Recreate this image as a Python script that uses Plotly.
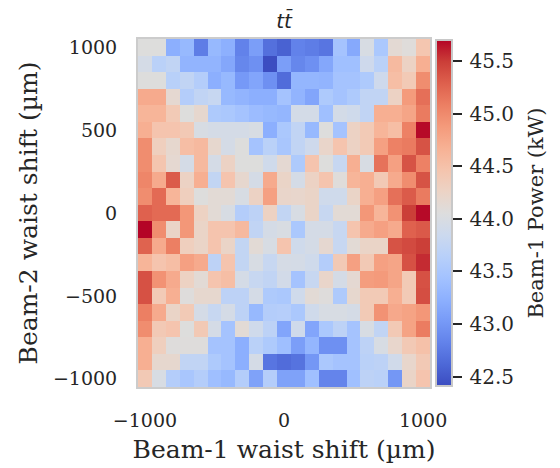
import plotly.graph_objects as go

# Axis values (µm)
x_shift_um = [-1000, -900, -800, -700, -600, -500, -400, -300, -200, -100, 0,
              100, 200, 300, 400, 500, 600, 700, 800, 900, 1000]
y_shift_um = [1000, 900, 800, 700, 600, 500, 400, 300, 200, 100, 0,
              -100, -200, -300, -400, -500, -600, -700, -800, -900, -1000]
x_tick_vals = [-1000, 0, 1000]
y_tick_vals = [-1000, -500, 0, 500, 1000]
cbar_tick_vals = [42.5, 43.0, 43.5, 44.0, 44.5, 45.0, 45.5]

# Beam-1 power (kW), one list per Beam-2 waist shift row (top to bottom)
row_p1000 = [44.06, 44.06, 43.22, 43.33, 42.78, 43.33, 43.23, 42.82, 43.06, 42.68, 42.57, 42.82, 42.78, 42.72, 43.46, 43.17, 43.98, 43.52, 44.14, 44.08, 44.44]
row_p900 = [43.95, 43.66, 43.74, 43.28, 43.28, 43.28, 43.15, 42.86, 42.94, 42.42, 43.06, 42.86, 42.94, 43.15, 43.41, 43.41, 43.87, 43.66, 44.57, 44.27, 44.69]
row_p800 = [44.06, 44.06, 43.64, 43.74, 43.60, 43.22, 43.33, 43.02, 43.13, 42.94, 42.65, 43.30, 43.30, 43.28, 43.46, 43.46, 43.55, 43.87, 44.53, 44.39, 44.98]
row_p700 = [44.73, 44.73, 44.16, 43.60, 43.74, 43.80, 43.33, 43.28, 43.22, 43.22, 43.46, 43.28, 43.13, 43.55, 43.46, 43.55, 43.74, 43.74, 44.27, 44.87, 45.19]
row_p600 = [44.63, 44.63, 44.39, 44.06, 44.18, 43.55, 43.52, 43.46, 43.37, 43.33, 43.30, 43.94, 43.94, 43.41, 43.94, 43.88, 43.74, 44.69, 44.69, 44.78, 45.11]
row_p500 = [44.69, 44.46, 44.46, 44.40, 43.98, 43.95, 43.95, 43.95, 43.98, 43.22, 43.52, 43.74, 43.33, 44.06, 43.46, 44.27, 44.39, 44.63, 44.53, 45.07, 45.68]
row_p400 = [44.98, 44.32, 44.18, 44.53, 44.58, 44.18, 43.95, 44.06, 43.46, 43.66, 43.50, 43.74, 43.87, 44.22, 44.46, 44.27, 44.39, 44.82, 45.07, 45.11, 45.37]
row_p300 = [44.98, 44.45, 44.16, 43.95, 44.58, 43.95, 44.27, 44.06, 44.06, 43.88, 44.15, 43.55, 44.46, 44.06, 43.80, 44.69, 43.98, 45.17, 44.82, 45.37, 45.07]
row_p200 = [45.03, 44.73, 45.32, 44.27, 44.69, 43.75, 44.46, 44.18, 43.95, 44.73, 44.24, 43.95, 44.27, 44.46, 44.08, 44.63, 44.69, 44.40, 44.73, 44.98, 45.37]
row_p100 = [44.98, 45.22, 44.63, 44.32, 44.06, 44.12, 44.12, 43.98, 44.27, 44.82, 44.22, 44.20, 44.24, 43.88, 43.88, 44.24, 44.69, 44.82, 45.18, 45.32, 45.11]
row_0 = [45.28, 45.22, 45.22, 44.90, 44.28, 44.12, 43.98, 43.60, 43.70, 44.28, 43.75, 43.98, 44.24, 43.80, 44.12, 44.12, 44.90, 44.63, 44.94, 45.49, 45.68]
row_m100 = [45.70, 44.98, 44.24, 44.90, 44.24, 44.46, 44.46, 44.58, 43.74, 43.95, 44.00, 43.52, 43.95, 43.95, 43.80, 44.46, 44.73, 44.82, 44.73, 45.28, 45.33]
row_m200 = [45.27, 44.73, 45.08, 44.32, 44.24, 44.46, 44.24, 43.75, 44.12, 43.98, 44.46, 43.88, 43.95, 44.17, 43.80, 44.12, 44.24, 44.24, 45.37, 45.42, 45.49]
row_m300 = [44.63, 44.46, 44.53, 44.82, 44.73, 43.70, 44.46, 43.75, 43.98, 43.80, 43.96, 43.95, 43.88, 43.60, 44.40, 44.82, 44.40, 44.82, 44.78, 45.38, 45.56]
row_m400 = [45.38, 44.94, 44.73, 44.28, 44.12, 44.46, 44.53, 43.95, 43.80, 43.74, 43.92, 43.46, 43.80, 44.22, 43.95, 44.15, 44.85, 44.88, 44.78, 44.39, 45.38]
row_m500 = [45.38, 44.39, 44.69, 44.07, 44.18, 44.18, 43.70, 43.70, 43.95, 43.55, 43.52, 43.88, 44.12, 44.07, 43.55, 44.18, 44.39, 44.39, 44.69, 44.39, 45.40]
row_m600 = [45.08, 44.73, 44.24, 44.39, 43.95, 43.80, 43.95, 43.70, 43.33, 43.60, 43.62, 43.52, 43.88, 43.98, 43.98, 43.95, 44.39, 44.94, 44.75, 44.80, 44.90]
row_m700 = [44.98, 44.40, 44.46, 44.06, 44.40, 43.95, 43.46, 44.12, 43.88, 43.70, 43.13, 43.88, 43.13, 43.52, 43.70, 43.46, 43.98, 43.74, 44.40, 44.80, 45.10]
row_m800 = [44.69, 44.32, 44.07, 44.07, 44.07, 43.46, 43.46, 43.22, 43.66, 43.55, 43.40, 43.06, 43.30, 42.94, 42.94, 43.46, 43.70, 43.98, 44.20, 44.40, 44.50]
row_m900 = [44.69, 44.18, 44.18, 43.74, 43.74, 43.55, 43.46, 43.22, 43.95, 42.72, 42.65, 42.70, 43.00, 43.52, 43.46, 43.46, 43.66, 43.70, 43.90, 44.20, 44.40]
row_m1000 = [44.40, 43.98, 43.60, 43.50, 43.60, 43.40, 43.33, 43.60, 43.10, 43.60, 43.10, 43.10, 43.41, 42.84, 42.84, 43.41, 43.70, 43.66, 43.00, 44.24, 44.46]

power_z = [row_p1000, row_p900, row_p800, row_p700, row_p600, row_p500, row_p400,
           row_p300, row_p200, row_p100, row_0, row_m100, row_m200, row_m300,
           row_m400, row_m500, row_m600, row_m700, row_m800, row_m900, row_m1000]

coolwarm = [
    [0.0, "rgb(59,76,192)"], [0.0625, "rgb(77,104,215)"], [0.125, "rgb(98,130,234)"],
    [0.1875, "rgb(119,154,247)"], [0.25, "rgb(141,176,254)"], [0.3125, "rgb(163,194,255)"],
    [0.375, "rgb(184,208,249)"], [0.4375, "rgb(204,217,238)"], [0.5, "rgb(221,221,221)"],
    [0.5625, "rgb(236,211,197)"], [0.625, "rgb(245,196,173)"], [0.6875, "rgb(247,177,148)"],
    [0.75, "rgb(244,154,123)"], [0.8125, "rgb(236,127,99)"], [0.875, "rgb(222,96,77)"],
    [0.9375, "rgb(203,62,56)"], [1.0, "rgb(180,4,38)"],
]

TXT = "rgb(38,38,38)"
SERIF = "DejaVu Serif"

fig = go.Figure(go.Heatmap(
    x=x_shift_um, y=y_shift_um, z=power_z,
    colorscale=coolwarm, zmin=42.41, zmax=45.70,
    colorbar=dict(
        x=1.0, xanchor="left", xpad=6, xref="paper",
        y=0.5, yanchor="middle", len=0.995, lenmode="fraction", ypad=0,
        thickness=16, outlinecolor="rgb(200,200,200)", outlinewidth=2,
        tickvals=cbar_tick_vals,
        ticktext=["\u2009" + f"{v:.1f}" + "\u2009\u2009" for v in cbar_tick_vals],
        ticks="outside", ticklen=9, tickwidth=2, tickcolor=TXT,
        tickfont=dict(family=SERIF, size=20, color=TXT),
        title=dict(text="Beam-1 Power (kW)", side="right",
                   font=dict(family=SERIF, size=21, color=TXT)),
    ),
))

fig.update_layout(
    width=552, height=460,
    margin=dict(l=130, r=130, t=31, b=81, autoexpand=False),
    paper_bgcolor="white", plot_bgcolor="white",
    title=dict(text="<i>tt̄</i>", x=(130 + 146) / 552, xanchor="center",
               y=1 - 13 / 460, yanchor="middle", yref="container",
               font=dict(family="DejaVu Sans", size=20, color=TXT)),
)
fig.update_xaxes(
    range=[-1050, 1050], tickvals=x_tick_vals, showgrid=False, zeroline=False,
    showline=True, mirror=True, linecolor="rgb(204,204,204)", linewidth=2,
    ticks="", ticklabelstandoff=15,
    tickfont=dict(family=SERIF, size=19, color=TXT),
    title=dict(text="Beam-1 waist shift (µm)", standoff=11,
               font=dict(family=SERIF, size=25, color=TXT)),
)
fig.update_yaxes(
    range=[-1050, 1050], tickvals=y_tick_vals, showgrid=False, zeroline=False,
    showline=True, mirror=True, linecolor="rgb(204,204,204)", linewidth=2,
    ticks="", ticklabelstandoff=15,
    tickfont=dict(family=SERIF, size=19, color=TXT),
    title=dict(text="Beam-2 waist shift (µm)", standoff=8,
               font=dict(family=SERIF, size=25, color=TXT)),
)

fig.write_html("out.html")
